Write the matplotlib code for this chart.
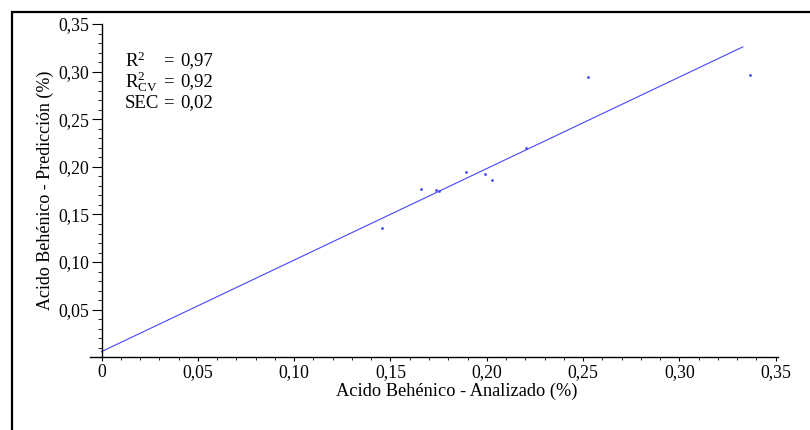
import matplotlib
matplotlib.use("Agg")
import matplotlib.pyplot as plt
from matplotlib.patches import Rectangle
from matplotlib.ticker import FixedLocator, MultipleLocator
import numpy

# Behenic acid: reference analysis vs. NIR prediction (%)
analizado = [0.1458, 0.1660, 0.1735, 0.1752, 0.1893, 0.1993, 0.2027, 0.2202, 0.2528, 0.3366]
prediccion = [0.1358, 0.1772, 0.1761, 0.1747, 0.1943, 0.1926, 0.1863, 0.2200, 0.2947, 0.2961]

# Calibration line
fit_intercept = 0.006
fit_slope = 0.961
fit_range = [0.0, 0.333]

x_ticks = [0.0, 0.05, 0.10, 0.15, 0.20, 0.25, 0.30, 0.35]
x_labels = ["0", "0,05", "0,10", "0,15", "0,20", "0,25", "0,30", "0,35"]
y_ticks = [0.05, 0.10, 0.15, 0.20, 0.25, 0.30, 0.35]
y_labels = ["0,05", "0,10", "0,15", "0,20", "0,25", "0,30", "0,35"]

stats_names = [r"R$^{2}$", r"R$^{2}_{\mathrm{CV}}$", "SEC"]
stats_values = ["0,97", "0,92", "0,02"]

plt.rcParams["font.family"] = ["Liberation Serif", "DejaVu Serif"]
plt.rcParams["mathtext.fontset"] = "custom"
plt.rcParams["mathtext.rm"] = "Liberation Serif"
plt.rcParams["mathtext.it"] = "Liberation Serif:italic"
plt.rcParams["mathtext.bf"] = "Liberation Serif:bold"

W, H = 810, 430
fig = plt.figure(figsize=(W / 100, H / 100), dpi=100, facecolor="white")

# Outer frame (runs off the right and bottom edges)
fig.patches.append(Rectangle((12 / W, -0.1), 1.2, (H - 12) / H + 0.1,
                             transform=fig.transFigure, fill=False,
                             edgecolor="black", linewidth=1.6))

ax = fig.add_axes([90 / W, (H - 357.3) / H, 687.6 / W, 333.3 / H])
ax.set_xlim(-0.006, 0.351)
ax.set_ylim(0.0, 0.35)

ax.spines["top"].set_visible(False)
ax.spines["right"].set_visible(False)
ax.spines["left"].set_position(("data", 0.0))
for side in ("left", "bottom"):
    ax.spines[side].set_linewidth(1.0)

xs = numpy.array(fit_range)
ax.plot(xs, fit_intercept + fit_slope * xs, color="#4646ff", linewidth=0.8)
ax.plot(analizado, prediccion, linestyle="none", marker="o", markersize=2.0,
        color="#4646ff", markeredgewidth=0)

ax.xaxis.set_major_locator(FixedLocator(x_ticks))
ax.set_xticklabels(x_labels)
ax.xaxis.set_minor_locator(MultipleLocator(0.01))
ax.yaxis.set_major_locator(FixedLocator(y_ticks))
ax.set_yticklabels(y_labels)
ax.yaxis.set_minor_locator(MultipleLocator(0.01))

ax.tick_params(axis="x", which="major", length=3, width=0.8, pad=2, labelsize=12.8)
ax.tick_params(axis="x", which="minor", length=2, width=0.6)
ax.tick_params(axis="y", which="major", length=7, width=0.8, pad=2, labelsize=12.8)
ax.tick_params(axis="y", which="minor", length=3, width=0.6)

ax.set_xlabel(u"Acido Behénico - Analizado (%)", fontsize=13.2)
ax.set_ylabel(u"Acido Behénico - Predicción (%)", fontsize=13)
ax.xaxis.set_label_coords(0.534, -0.075)
ax.yaxis.set_label_coords(-0.053, 0.5)

# Fit statistics
for i, (name, value) in enumerate(zip(stats_names, stats_values)):
    ypix = 61 + 21 * i
    fig.text(125 / W, 1 - ypix / H, name, fontsize=13.5, va="center")
    fig.text(163 / W, 1 - ypix / H, "=", fontsize=13.5, va="center")
    fig.text(180 / W, 1 - ypix / H, value, fontsize=13.5, va="center")

fig.savefig("out.png", dpi=100, facecolor="white")
